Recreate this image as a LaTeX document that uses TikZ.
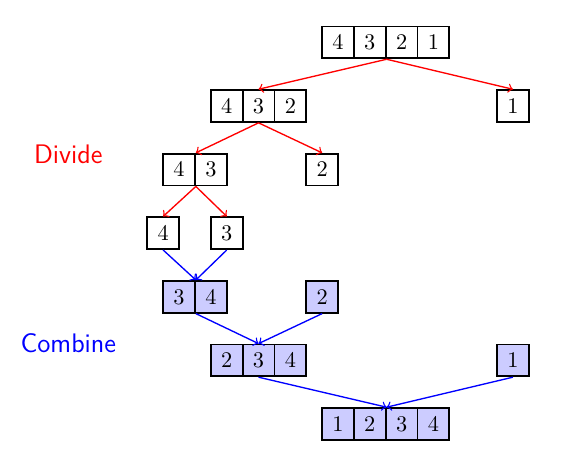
\documentclass[tikz,border=0pt]{standalone}
\begin{document}
\begin{tikzpicture}[
  cell/.style={draw, thick, minimum size=0.5cm, inner sep=0pt, anchor=center},
  fcell/.style={cell, fill=blue!20},
  divarrow/.style={->, semithick, red},
  combarrow/.style={->, semithick, blue},
  lbl/.style={font=\large\sffamily, anchor=base}
]
\useasboundingbox (0,0) rectangle (8.98,7.31);
\node[lbl, text=red] (divide) at (1.074,4.742) {Divide};
\node[lbl, text=blue] (combine) at (1.074,1.76) {Combine};
\begin{scope}[shift={(0.066,0.642)}]
% row 1
\node[cell] (a1) at (5.25,6) {$4$};
\node[cell] (a2) at (5.75,6) {$3$};
\node[cell] (a3) at (6.25,6) {$2$};
\node[cell] (a4) at (6.75,6) {$1$};
% row 2
\node[cell] (b1) at (3.5,5) {$4$};
\node[cell] (b2) at (4,5) {$3$};
\node[cell] (b3) at (4.5,5) {$2$};
\node[cell] (b4) at (8,5) {$1$};
% row 3
\node[cell] (c1) at (2.75,4) {$4$};
\node[cell] (c2) at (3.25,4) {$3$};
\node[cell] (c3) at (5,4) {$2$};
% row 4
\node[cell] (d1) at (2.5,3) {$4$};
\node[cell] (d2) at (3.5,3) {$3$};
% row 5
\node[fcell] (e1) at (2.75,2) {$3$};
\node[fcell] (e2) at (3.25,2) {$4$};
\node[fcell] (e3) at (5,2) {$2$};
% row 6
\node[fcell] (f1) at (3.5,1) {$2$};
\node[fcell] (f2) at (4,1) {$3$};
\node[fcell] (f3) at (4.5,1) {$4$};
\node[fcell] (f4) at (8,1) {$1$};
% row 7
\node[fcell] (g1) at (5.25,0) {$1$};
\node[fcell] (g2) at (5.75,0) {$2$};
\node[fcell] (g3) at (6.25,0) {$3$};
\node[fcell] (g4) at (6.75,0) {$4$};
\end{scope}
% divide arrows
\draw[divarrow] (a2.south east) -- (b2.north);
\draw[divarrow] (a2.south east) -- (b4.north);
\draw[divarrow] (b2.south) -- (c1.north east);
\draw[divarrow] (b2.south) -- (c3.north);
\draw[divarrow] (c1.south east) -- (d1.north);
\draw[divarrow] (c1.south east) -- (d2.north);
% combine arrows
\draw[combarrow] (d1.south) -- (e1.north east);
\draw[combarrow] (d2.south) -- (e1.north east);
\draw[combarrow] (e1.south east) -- (f2.north);
\draw[combarrow] (e3.south) -- (f2.north);
\draw[combarrow] (f2.south) -- (g2.north east);
\draw[combarrow] (f4.south) -- (g2.north east);
\end{tikzpicture}
\end{document}
